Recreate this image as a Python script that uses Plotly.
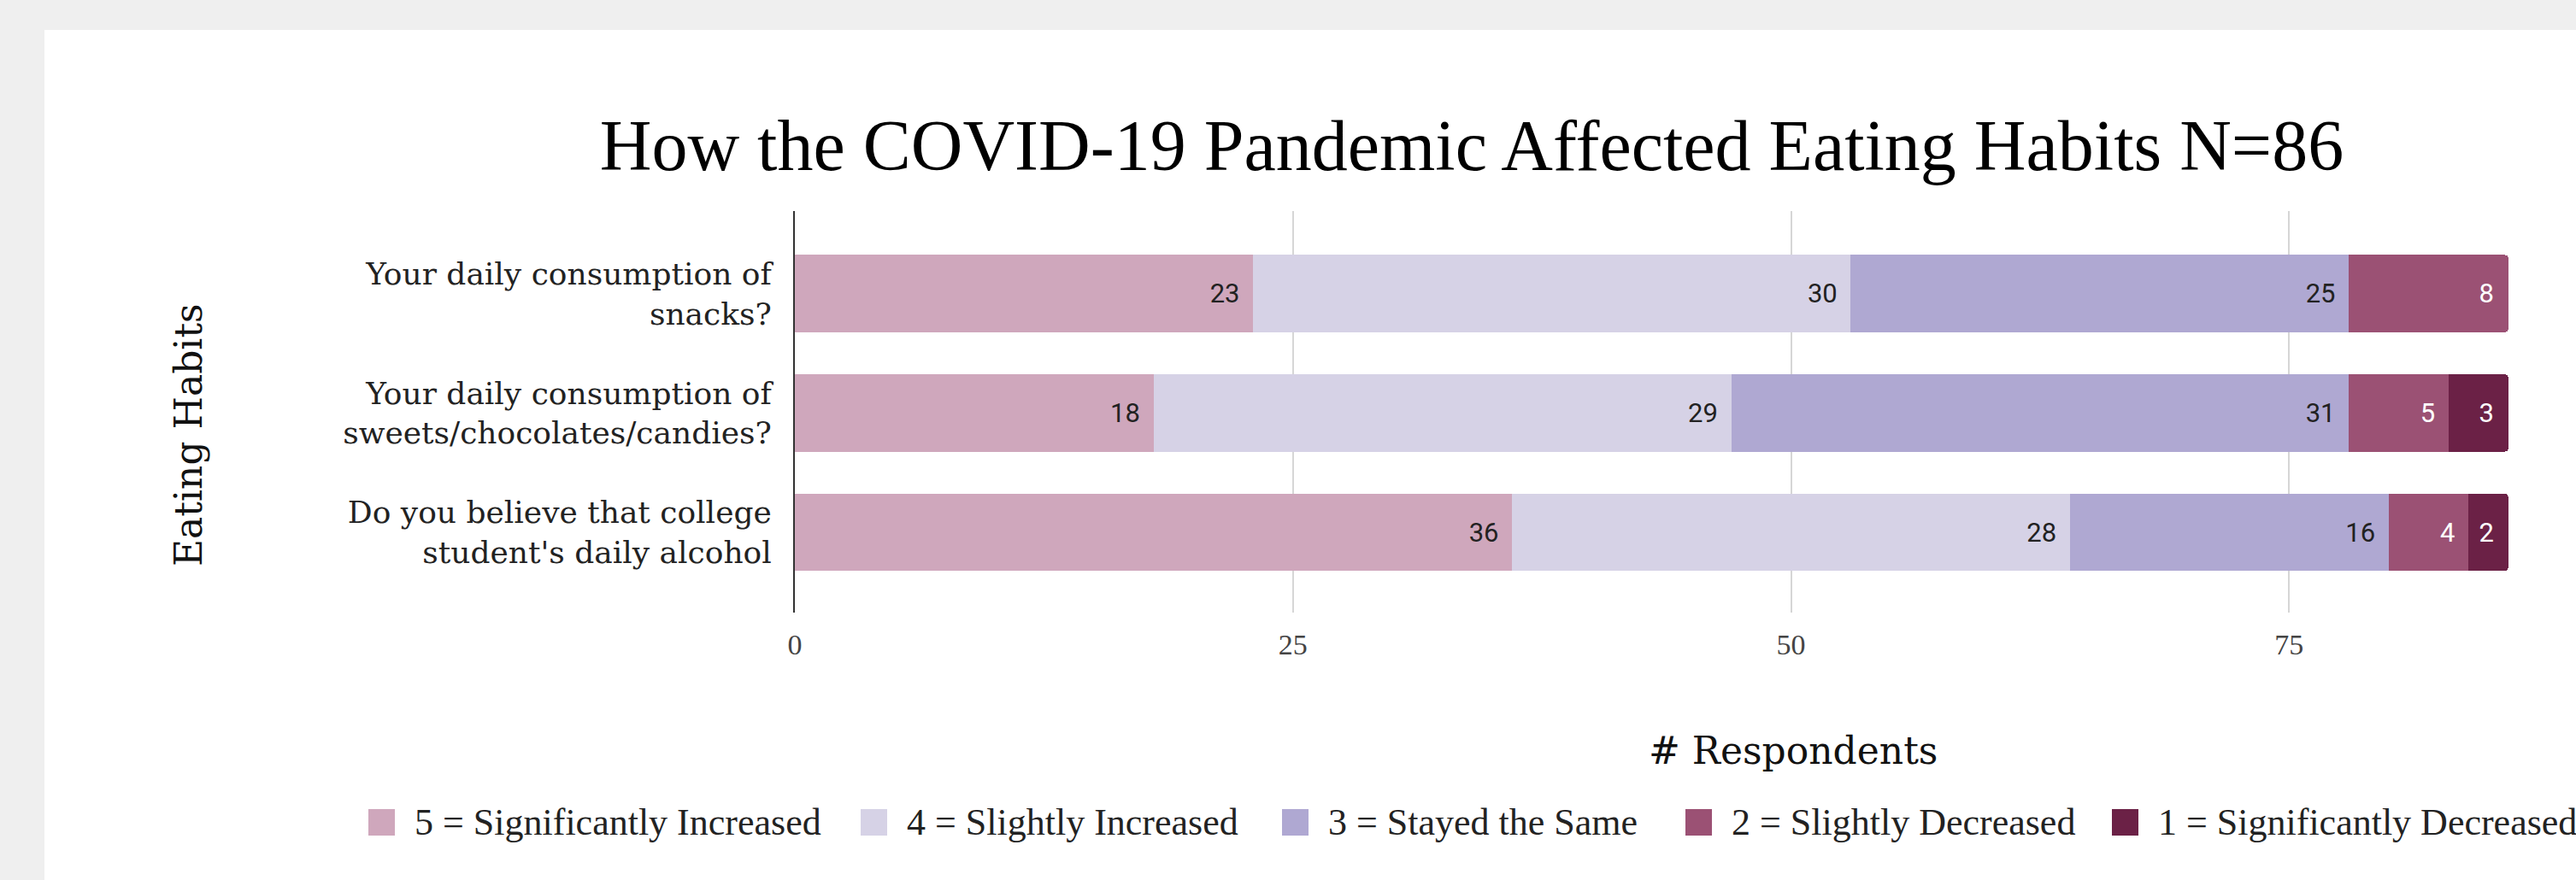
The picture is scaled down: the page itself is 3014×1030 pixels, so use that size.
import plotly.graph_objects as go

# ---- data -------------------------------------------------------------
questions = [
    "Your daily consumption of\nsnacks?",
    "Your daily consumption of\nsweets/chocolates/candies?",
    "Do you believe that college\nstudent's daily alcohol",
]

response_labels = [
    "5 = Significantly Increased",
    "4 = Slightly Increased",
    "3 = Stayed the Same",
    "2 = Slightly Decreased",
    "1 = Significantly Decreased",
]

significantly_increased = [23, 18, 36]
slightly_increased = [30, 29, 28]
stayed_the_same = [25, 31, 16]
slightly_decreased = [8, 5, 4]
significantly_decreased = [0, 3, 2]

x_ticks = [0, 25, 50, 75]

# ---- styling ----------------------------------------------------------
colors = ["#cfa7bc", "#d6d2e6", "#afa8d2", "#9b5174", "#6b2146"]
label_colors = ["#222222", "#222222", "#222222", "#ffffff", "#ffffff"]

W, H = 3014, 1030
ML, MR, MT, MB = 930, 0, 247, 313
PW, PH = W - ML - MR, H - MT - MB
PX_PER_UNIT = 23.31


def px_x(px):
    return (px - ML) / PW


def px_y(py):
    return (H - MB - py) / PH


cats = [q.replace("\n", "<br>") for q in questions]
series = [
    significantly_increased,
    slightly_increased,
    stayed_the_same,
    slightly_decreased,
    significantly_decreased,
]

fig = go.Figure()
for name, vals, col, tcol in zip(response_labels, series, colors, label_colors):
    fig.add_trace(
        go.Bar(
            orientation="h",
            y=cats,
            x=vals,
            name=name,
            width=0.645,
            marker=dict(color=col, line=dict(width=0)),
            text=[f"{v}\u2009\u2009" if v else "" for v in vals],
            textposition="inside",
            insidetextanchor="end",
            textangle=0,
            insidetextfont=dict(family="Roboto", size=31, color=tcol),
            showlegend=False,
            hoverinfo="skip",
        )
    )

# white card on grey page
shapes = [
    dict(
        type="rect", xref="paper", yref="paper",
        x0=px_x(52), x1=px_x(W + 20), y0=px_y(H + 20), y1=px_y(35),
        fillcolor="white", line=dict(width=0), layer="below",
    )
]

# legend: swatch + label for each response
legend_swatch_left = [431, 1007, 1500, 1972, 2471]
annotations = []
for name, col, left in zip(response_labels, colors, legend_swatch_left):
    shapes.append(
        dict(
            type="rect", xref="paper", yref="paper",
            x0=px_x(left), x1=px_x(left + 31), y0=px_y(978), y1=px_y(947),
            fillcolor=col, line=dict(width=0),
        )
    )
    annotations.append(
        dict(
            text=name, xref="paper", yref="paper",
            x=px_x(left + 52), y=px_y(962), xanchor="left", yanchor="middle",
            showarrow=False,
            font=dict(family="Liberation Serif", size=44, color="#222222"),
        )
    )

# axis titles
annotations.append(
    dict(
        text="# Respondents", xref="paper", yref="paper",
        x=px_x(2098), y=px_y(878), xanchor="center", yanchor="middle",
        showarrow=False,
        font=dict(family="DejaVu Serif", size=44, color="#111111"),
    )
)
annotations.append(
    dict(
        text="Eating Habits", xref="paper", yref="paper",
        x=px_x(220), y=px_y(509), xanchor="center", yanchor="middle",
        textangle=-90, showarrow=False,
        font=dict(family="DejaVu Serif", size=44, color="#111111"),
    )
)

fig.update_layout(
    width=W,
    height=H,
    margin=dict(l=ML, r=MR, t=MT, b=MB, pad=0),
    paper_bgcolor="#efefef",
    plot_bgcolor="rgba(0,0,0,0)",
    barmode="stack",
    barcornerradius=4,
    uniformtext=dict(minsize=31, mode="show"),
    title=dict(
        text="How the COVID-19 Pandemic Affected Eating Habits N=86",
        xref="container", yref="container",
        x=1722 / W, y=1 - 170 / H, xanchor="center", yanchor="middle",
        font=dict(family="Liberation Serif", size=84, color="#000000"),
    ),
    xaxis=dict(
        range=[0, PW / PX_PER_UNIT],
        tickvals=x_ticks,
        ticktext=[str(t) for t in x_ticks],
        showgrid=True,
        gridcolor="#d6d6d6",
        gridwidth=2,
        zeroline=False,
        showline=False,
        ticks="",
        ticklabelstandoff=14,
        tickfont=dict(family="Liberation Serif", size=34, color="#444444"),
        automargin=False,
        fixedrange=True,
    ),
    yaxis=dict(
        type="category",
        categoryorder="array",
        categoryarray=cats,
        range=[2.67, -0.69],
        showgrid=False,
        zeroline=False,
        showline=True,
        linecolor="#333333",
        linewidth=2,
        ticks="",
        ticklabelstandoff=18,
        tickfont=dict(family="DejaVu Serif", size=36, color="#222222"),
        automargin=False,
        fixedrange=True,
    ),
    shapes=shapes,
    annotations=annotations,
    showlegend=False,
)

fig.write_html("out.html", config={"displayModeBar": False})
